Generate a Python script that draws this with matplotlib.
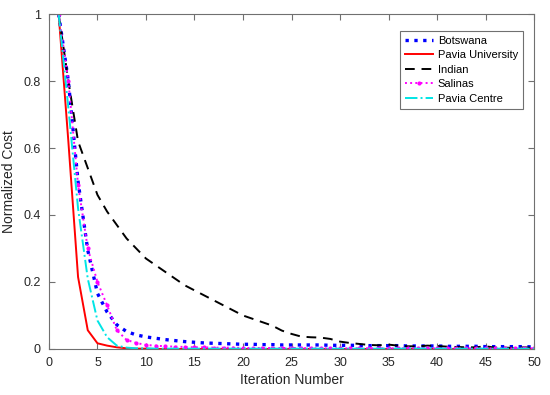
import matplotlib
matplotlib.use('Agg')
import matplotlib.pyplot as plt
import numpy as np

plt.rcParams['font.family'] = ['Liberation Sans', 'DejaVu Sans']

iters = np.arange(1, 51)

# Значения кривых
botswana = [1.0, 0.80, 0.50, 0.295, 0.166, 0.110, 0.072, 0.052, 0.042, 0.036,
            0.032, 0.028, 0.025, 0.022, 0.020, 0.018, 0.017, 0.016, 0.015, 0.014,
            0.014, 0.013, 0.013, 0.012, 0.012, 0.012, 0.012, 0.012, 0.011, 0.011,
            0.011, 0.011, 0.010, 0.010, 0.010, 0.010, 0.009, 0.009, 0.009, 0.009,
            0.008, 0.008, 0.008, 0.008, 0.007, 0.007, 0.007, 0.007, 0.007, 0.006]
pavia_univ = [1.0, 0.62, 0.215, 0.056, 0.017, 0.010, 0.005, 0.002, 0.001, 0.001,
              0.0, 0.0, 0.0, 0.0, 0.0, 0.0, 0.0, 0.0, 0.0, 0.0,
              0.0, 0.0, 0.0, 0.0, 0.0, 0.0, 0.0, 0.0, 0.0, 0.0,
              0.0, 0.0, 0.0, 0.0, 0.0, 0.0, 0.0, 0.0, 0.0, 0.0,
              0.0, 0.0, 0.0, 0.0, 0.0, 0.0, 0.0, 0.0, 0.0, 0.0]
indian = [1.0, 0.80, 0.62, 0.54, 0.46, 0.41, 0.37, 0.33, 0.30, 0.27,
          0.25, 0.23, 0.21, 0.19, 0.175, 0.16, 0.145, 0.13, 0.115, 0.10,
          0.09, 0.08, 0.07, 0.055, 0.045, 0.037, 0.035, 0.034, 0.030, 0.022,
          0.018, 0.015, 0.012, 0.011, 0.013, 0.010, 0.008, 0.008, 0.010, 0.009,
          0.007, 0.006, 0.005, 0.005, 0.008, 0.004, 0.004, 0.003, 0.005, 0.003]
salinas = [1.0, 0.80, 0.49, 0.30, 0.20, 0.13, 0.056, 0.027, 0.018, 0.012,
           0.010, 0.008, 0.007, 0.006, 0.005, 0.005, 0.004, 0.004, 0.004, 0.003,
           0.003, 0.003, 0.003, 0.003, 0.003, 0.003, 0.002, 0.002, 0.002, 0.002,
           0.002, 0.002, 0.002, 0.002, 0.002, 0.002, 0.002, 0.002, 0.002, 0.002,
           0.002, 0.002, 0.002, 0.002, 0.002, 0.002, 0.002, 0.002, 0.002, 0.002]
pavia_centre = [1.0, 0.72, 0.42, 0.21, 0.085, 0.035, 0.010, 0.004, 0.002, 0.002,
                0.001, 0.001, 0.001, 0.001, 0.001, 0.001, 0.001, 0.001, 0.001, 0.001,
                0.001, 0.001, 0.001, 0.001, 0.001, 0.001, 0.001, 0.001, 0.001, 0.001,
                0.001, 0.001, 0.001, 0.001, 0.001, 0.001, 0.001, 0.001, 0.001, 0.001,
                0.001, 0.001, 0.001, 0.001, 0.001, 0.001, 0.001, 0.001, 0.001, 0.001]

fig = plt.figure(figsize=(5.5, 3.95), dpi=100)
ax = fig.add_axes([0.089, 0.1165, 0.882, 0.848])

ax.plot(iters, botswana, ':', color='#0000ff', linewidth=2.4, label='Botswana')
ax.plot(iters, pavia_univ, '-', color='#ff0000', linewidth=1.4, label='Pavia University')
ax.plot(iters, indian, '--', color='black', linewidth=1.4, dashes=(5, 3.5), label='Indian')
ax.plot(iters, salinas, ':', color='#ff00ff', linewidth=1.4, marker='.', markersize=4,
        label='Salinas')
ax.plot(iters, pavia_centre, '-.', color='#00e5e5', linewidth=1.4, label='Pavia Centre')

ax.set_xlim(0, 50)
ax.set_ylim(0, 1)
ax.set_xticks(np.arange(0, 51, 5))
ax.set_yticks([0, 0.2, 0.4, 0.6, 0.8, 1])
ax.set_yticklabels(['0', '0.2', '0.4', '0.6', '0.8', '1'])
ax.set_xlabel('Iteration Number', fontsize=10, color='#262626', labelpad=3)
ax.set_ylabel('Normalized Cost', fontsize=10, color='#262626', labelpad=5)

axis_col = '#707070'
for s in ax.spines.values():
    s.set_color(axis_col)
    s.set_linewidth(0.8)
ax.tick_params(direction='in', length=4, width=0.8, color=axis_col,
               labelcolor='#262626', labelsize=9, top=True, right=True, pad=6)

leg = ax.legend(loc='upper right', bbox_to_anchor=(0.977, 0.95), fontsize=8,
                fancybox=False, framealpha=1, edgecolor=axis_col, handlelength=2.5,
                handletextpad=0.4, borderpad=0.45, labelspacing=0.4, borderaxespad=0)
leg.get_frame().set_linewidth(0.8)

fig.savefig('out.png', dpi=100)
